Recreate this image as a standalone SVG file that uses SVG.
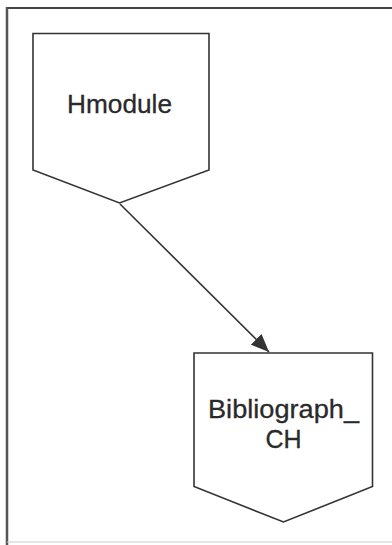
<svg xmlns="http://www.w3.org/2000/svg" width="392" height="545" viewBox="0 0 392 545">
  <style>
    .node { fill: #ffffff; stroke: #333333; stroke-width: 1.6; stroke-linejoin: miter; }
    .label { font-family: "Liberation Sans", Arial, sans-serif; fill: #2a2a2a; text-anchor: middle; stroke: #2a2a2a; stroke-width: 0.3; }
    .edge { stroke: #333333; stroke-width: 1.6; fill: none; }
  </style>
  <defs>
    <marker id="arrow" viewBox="0 0 18 15" refX="18" refY="7.5" markerWidth="18" markerHeight="15" orient="auto" markerUnits="userSpaceOnUse">
      <path d="M0,0 L18,7.5 L0,15 z" fill="#333333"/>
    </marker>
  </defs>
  <rect width="392" height="545" fill="#ffffff"/>
  <g id="frame">
    <line x1="7" y1="8" x2="392" y2="8" stroke="#444444" stroke-width="2"/>
    <line x1="7" y1="7" x2="7" y2="545" stroke="#555555" stroke-width="2.5"/>
    <line x1="7" y1="542" x2="392" y2="542" stroke="#cccccc" stroke-width="1"/>
  </g>
  <g id="connectors">
    <line class="edge" x1="120" y1="204" x2="269" y2="352" marker-end="url(#arrow)"/>
  </g>
  <g id="node-hmodule">
    <polygon class="node" points="33,33.5 209,33.5 209,170 119.5,203 33,170"/>
    <text class="label" x="119.5" y="113" font-size="26" textLength="105" lengthAdjust="spacingAndGlyphs">Hmodule</text>
  </g>
  <g id="node-bibliograph">
    <polygon class="node" points="194,353 372.5,353 372.5,486.5 283.5,522 194,486.5"/>
    <text class="label" x="283.5" y="417.5" font-size="25" textLength="151" lengthAdjust="spacingAndGlyphs">Bibliograph_</text>
    <text class="label" x="283.5" y="447.5" font-size="25">CH</text>
  </g>
</svg>
